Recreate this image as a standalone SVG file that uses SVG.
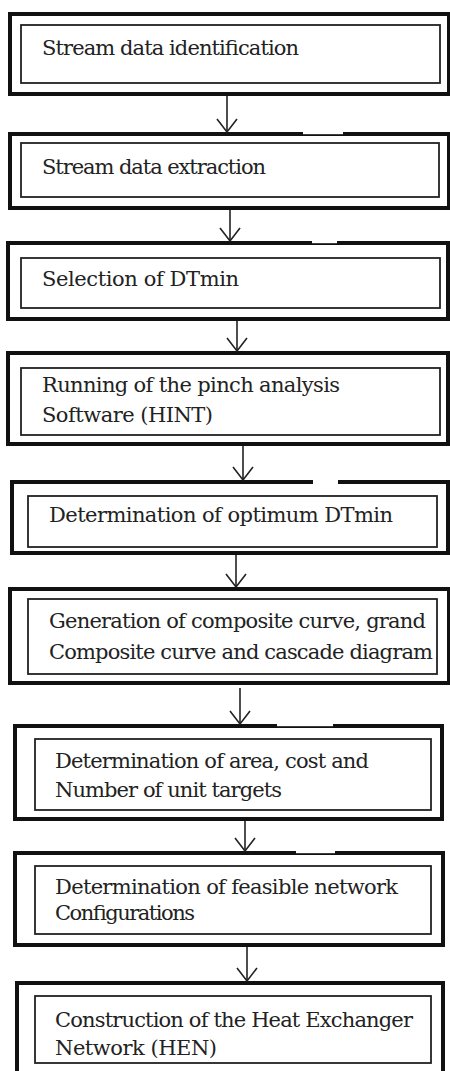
<svg xmlns="http://www.w3.org/2000/svg" width="450" height="1071" viewBox="0 0 450 1071">
<style>
.outer{fill:none;stroke:#111;stroke-width:4}
.inner{fill:none;stroke:#222;stroke-width:1.8}
.t{font-family:"DejaVu Serif","Liberation Serif",serif;font-size:21px;fill:#222}
.c{stroke:#222;stroke-width:1.6;fill:none}
.gap{fill:#fff}
</style>
<defs>
<marker id="ah" markerUnits="userSpaceOnUse" viewBox="-1 -1 22 16" refX="10" refY="13" markerWidth="22" markerHeight="16" orient="0">
<path d="M0,0 L10,13 L20,0" fill="none" stroke="#222" stroke-width="1.6"/>
</marker>
</defs>
<rect width="450" height="1071" fill="#fff"/>
<g id="n1">
<rect class="outer" x="10" y="14" width="439" height="80"/>
<rect class="inner" x="21" y="25" width="419" height="58"/>
<text class="t" x="42" y="55" textLength="257">Stream data identification</text>
</g>
<g id="n2">
<rect class="outer" x="10" y="134" width="439" height="74"/>
<rect class="inner" x="21" y="143" width="418" height="54"/>
<text class="t" x="42" y="174" textLength="224">Stream data extraction</text>
</g>
<g id="n3">
<rect class="outer" x="8" y="243" width="440" height="76"/>
<rect class="inner" x="21" y="258" width="419" height="50"/>
<text class="t" x="42" y="286" textLength="197">Selection of DTmin</text>
</g>
<g id="n4">
<rect class="outer" x="8" y="353" width="440" height="91"/>
<rect class="inner" x="21" y="368" width="419" height="67"/>
<text class="t" x="42" y="392" textLength="298">Running of the pinch analysis</text>
<text class="t" x="42" y="422" textLength="171">Software (HINT)</text>
</g>
<g id="n5">
<rect class="outer" x="12" y="482" width="436" height="71"/>
<rect class="inner" x="28" y="496" width="409" height="51"/>
<text class="t" x="49" y="522" textLength="344">Determination of optimum DTmin</text>
</g>
<g id="n6">
<rect class="outer" x="10" y="589" width="439" height="94"/>
<rect class="inner" x="28" y="599" width="409" height="75"/>
<text class="t" x="49" y="628" textLength="377">Generation of composite curve, grand</text>
<text class="t" x="49" y="659" textLength="384">Composite curve and cascade diagram</text>
</g>
<g id="n7">
<rect class="outer" x="15" y="726" width="427" height="93"/>
<rect class="inner" x="35" y="739" width="396" height="71"/>
<text class="t" x="55" y="768" textLength="314">Determination of area, cost and</text>
<text class="t" x="55" y="797" textLength="227">Number of unit targets</text>
</g>
<g id="n8">
<rect class="outer" x="15" y="853" width="428" height="92"/>
<rect class="inner" x="35" y="866" width="396" height="68"/>
<text class="t" x="55" y="894" textLength="343">Determination of feasible network</text>
<text class="t" x="55" y="920" textLength="140">Configurations</text>
</g>
<g id="n9">
<rect class="outer" x="17" y="983" width="426" height="95"/>
<rect class="inner" x="35" y="996" width="396" height="67"/>
<text class="t" x="55" y="1027" textLength="358">Construction of the Heat Exchanger</text>
<text class="t" x="55" y="1055" textLength="162">Network (HEN)</text>
</g>
<g id="gaps">
<rect class="gap" x="303" y="131" width="40" height="3.2"/>
<rect class="gap" x="312" y="240" width="25" height="3.2"/>
<rect class="gap" x="313" y="479" width="25" height="6"/>
<rect class="gap" x="277" y="723" width="56" height="3.2"/>
<rect class="gap" x="296" y="850" width="39" height="3.2"/>
</g>
<g id="connectors">
<line class="c" x1="227" y1="96" x2="227" y2="132" marker-end="url(#ah)"/>
<line class="c" x1="230" y1="210" x2="230" y2="241" marker-end="url(#ah)"/>
<line class="c" x1="237" y1="321" x2="237" y2="351" marker-end="url(#ah)"/>
<line class="c" x1="243" y1="446" x2="243" y2="480" marker-end="url(#ah)"/>
<line class="c" x1="236" y1="555" x2="236" y2="587" marker-end="url(#ah)"/>
<line class="c" x1="240" y1="688" x2="240" y2="724" marker-end="url(#ah)"/>
<line class="c" x1="245" y1="821" x2="245" y2="851" marker-end="url(#ah)"/>
<line class="c" x1="247" y1="947" x2="247" y2="981" marker-end="url(#ah)"/>
</g>
</svg>
